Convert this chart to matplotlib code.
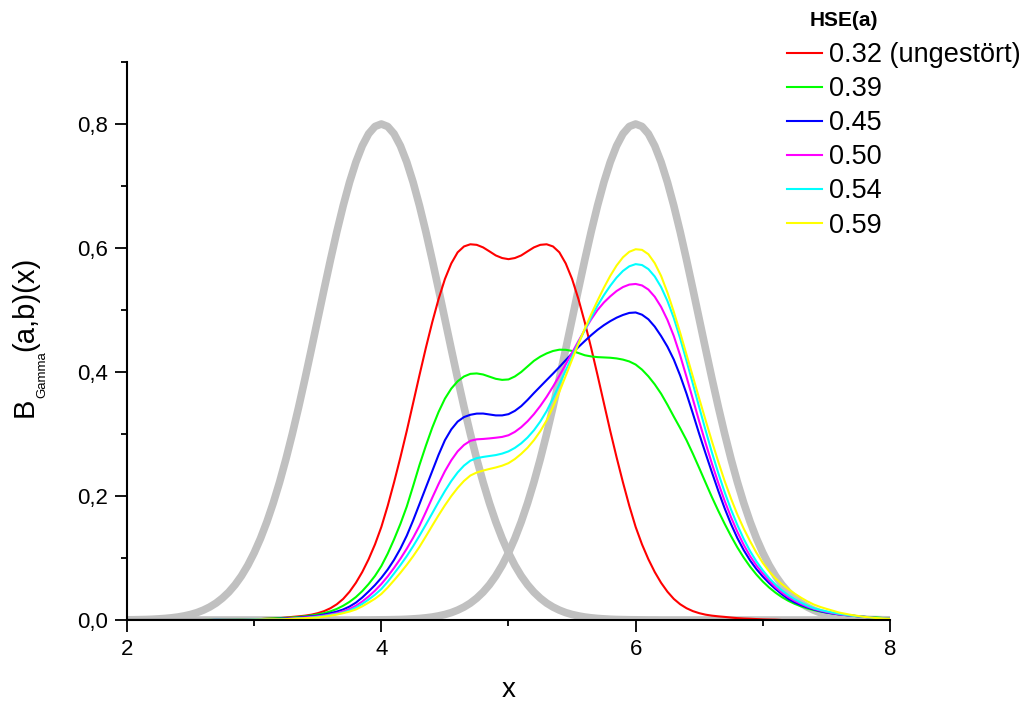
import numpy as np
import matplotlib
matplotlib.use("Agg")
import matplotlib.pyplot as plt
from matplotlib.ticker import FixedLocator, FuncFormatter

plt.rcParams["font.family"] = ["Liberation Sans", "DejaVu Sans"]

# x grid, step 0.05 from 2 to 8 (each row of the lists below = 0.5 in x)
x = np.linspace(2, 8, 121)

# grey reference curves (peaks at 4 and 6)
gray_left = [0.0003, 0.0004, 0.0006, 0.0008, 0.0012, 0.0018, 0.0025, 0.0035, 0.0048, 0.0066,
             0.0089, 0.0119, 0.0159, 0.0209, 0.0272, 0.0352, 0.0449, 0.0568, 0.0711, 0.0882,
             0.1083, 0.1316, 0.1583, 0.1886, 0.2224, 0.2597, 0.3002, 0.3436, 0.3894, 0.4369,
             0.4852, 0.5336, 0.5809, 0.6262, 0.6682, 0.7060, 0.7385, 0.7648, 0.7842, 0.7960,
             0.8000, 0.7960, 0.7842, 0.7648, 0.7385, 0.7060, 0.6682, 0.6262, 0.5809, 0.5336,
             0.4852, 0.4369, 0.3894, 0.3436, 0.3002, 0.2597, 0.2224, 0.1886, 0.1583, 0.1316,
             0.1083, 0.0882, 0.0711, 0.0568, 0.0449, 0.0352, 0.0272, 0.0209, 0.0159, 0.0119,
             0.0089, 0.0066, 0.0048, 0.0035, 0.0025, 0.0018, 0.0012, 0.0008, 0.0006, 0.0004,
             0.0003, 0.0002, 0.0001, 0.0001, 0, 0, 0, 0, 0, 0,
             0, 0, 0, 0, 0, 0, 0, 0, 0, 0,
             0, 0, 0, 0, 0, 0, 0, 0, 0, 0,
             0, 0, 0, 0, 0, 0, 0, 0, 0, 0,
             0]
gray_right = [0, 0, 0, 0, 0, 0, 0, 0, 0, 0,
              0, 0, 0, 0, 0, 0, 0, 0, 0, 0,
              0, 0, 0, 0, 0, 0, 0, 0, 0, 0,
              0, 0, 0, 0, 0, 0, 0, 0.0001, 0.0001, 0.0002,
              0.0003, 0.0004, 0.0006, 0.0008, 0.0012, 0.0018, 0.0025, 0.0035, 0.0048, 0.0066,
              0.0089, 0.0119, 0.0159, 0.0209, 0.0272, 0.0352, 0.0449, 0.0568, 0.0711, 0.0882,
              0.1083, 0.1316, 0.1583, 0.1886, 0.2224, 0.2597, 0.3002, 0.3436, 0.3894, 0.4369,
              0.4852, 0.5336, 0.5809, 0.6262, 0.6682, 0.7060, 0.7385, 0.7648, 0.7842, 0.7960,
              0.8000, 0.7960, 0.7842, 0.7648, 0.7385, 0.7060, 0.6682, 0.6262, 0.5809, 0.5336,
              0.4852, 0.4369, 0.3894, 0.3436, 0.3002, 0.2597, 0.2224, 0.1886, 0.1583, 0.1316,
              0.1083, 0.0882, 0.0711, 0.0568, 0.0449, 0.0352, 0.0272, 0.0209, 0.0159, 0.0119,
              0.0089, 0.0066, 0.0048, 0.0035, 0.0025, 0.0018, 0.0012, 0.0008, 0.0006, 0.0004,
              0.0003]

hse_032 = [0, 0, 0, 0, 0, 0, 0, 0, 0, 0,
           0, 0, 0, 0, 0, 0, 0, 0, 0.0005, 0.0007,
           0.001, 0.0015, 0.002, 0.0024, 0.003, 0.0039, 0.005, 0.0059, 0.007, 0.0086,
           0.011, 0.0143, 0.019, 0.0254, 0.034, 0.0456, 0.060, 0.0774, 0.098, 0.1219,
           0.150, 0.1841, 0.222, 0.2624, 0.305, 0.3499, 0.395, 0.4388, 0.480, 0.5176,
           0.550, 0.5751, 0.593, 0.6025, 0.606, 0.6051, 0.601, 0.5946, 0.588, 0.5838,
           0.582, 0.5838, 0.588, 0.5946, 0.601, 0.6051, 0.606, 0.6025, 0.593, 0.5751,
           0.550, 0.5176, 0.480, 0.4388, 0.395, 0.3499, 0.305, 0.2624, 0.222, 0.1841,
           0.150, 0.1219, 0.098, 0.0774, 0.060, 0.0456, 0.034, 0.0254, 0.019, 0.0143,
           0.011, 0.0086, 0.007, 0.0059, 0.005, 0.0039, 0.003, 0.0024, 0.002, 0.0015,
           0.001, 0.0007, 0.0005, 0, 0, 0, 0, 0, 0, 0,
           0, 0, 0, 0, 0, 0, 0, 0, 0, 0,
           0]
hse_039 = [0, 0, 0, 0, 0, 0, 0, 0, 0, 0,
           0, 0, 0, 0.0002, 0.0003, 0.0004, 0.0005, 0.0007, 0.001, 0.001,
           0.001, 0.0014, 0.002, 0.0025, 0.003, 0.0034, 0.004, 0.0049, 0.006, 0.0073,
           0.009, 0.0111, 0.014, 0.0179, 0.023, 0.0293, 0.037, 0.0466, 0.058, 0.0711,
           0.087, 0.107, 0.130, 0.155, 0.183, 0.216, 0.250, 0.281, 0.310, 0.3355,
           0.357, 0.3732, 0.385, 0.3928, 0.397, 0.3977, 0.396, 0.3925, 0.389, 0.3873,
           0.388, 0.3928, 0.400, 0.409, 0.418, 0.4248, 0.430, 0.4339, 0.436, 0.4358,
           0.434, 0.4306, 0.427, 0.4251, 0.424, 0.4235, 0.423, 0.4219, 0.420, 0.417,
           0.412, 0.4038, 0.393, 0.3801, 0.365, 0.3471, 0.328, 0.3095, 0.290, 0.2681,
           0.245, 0.2214, 0.198, 0.1759, 0.155, 0.1353, 0.117, 0.1006, 0.086, 0.0732,
           0.062, 0.0523, 0.044, 0.0369, 0.031, 0.0261, 0.022, 0.0187, 0.016, 0.0138,
           0.012, 0.0105, 0.009, 0.008, 0.007, 0.006, 0.005, 0.0045, 0.004, 0.003,
           0.002]
hse_045 = [0, 0, 0, 0, 0, 0, 0, 0, 0, 0,
           0, 0, 0, 0, 0.0002, 0.0003, 0.0004, 0.0004, 0.0005, 0.0007,
           0.001, 0.001, 0.001, 0.0015, 0.002, 0.0025, 0.003, 0.004, 0.005, 0.006,
           0.007, 0.0088, 0.011, 0.0136, 0.017, 0.0217, 0.028, 0.0363, 0.046, 0.0563,
           0.068, 0.0814, 0.097, 0.1151, 0.136, 0.1606, 0.187, 0.2136, 0.240, 0.2664,
           0.290, 0.3074, 0.320, 0.3273, 0.331, 0.3329, 0.333, 0.3315, 0.330, 0.330,
           0.332, 0.3373, 0.345, 0.355, 0.366, 0.3765, 0.387, 0.3974, 0.408, 0.4191,
           0.430, 0.4403, 0.450, 0.4594, 0.468, 0.4755, 0.482, 0.4876, 0.492, 0.4953,
           0.496, 0.4924, 0.485, 0.4732, 0.458, 0.4408, 0.420, 0.3942, 0.365, 0.3329,
           0.300, 0.2686, 0.238, 0.2081, 0.180, 0.1546, 0.132, 0.1126, 0.096, 0.082,
           0.070, 0.0594, 0.050, 0.0414, 0.034, 0.0284, 0.024, 0.0202, 0.017, 0.0143,
           0.012, 0.0105, 0.009, 0.008, 0.007, 0.006, 0.005, 0.004, 0.003, 0.0025,
           0.002]
hse_050 = [0, 0, 0, 0, 0, 0, 0, 0, 0, 0,
           0, 0, 0, 0, 0.0002, 0.0003, 0.0004, 0.0004, 0.0005, 0.0007,
           0.001, 0.001, 0.001, 0.0012, 0.0015, 0.002, 0.0025, 0.0032, 0.004, 0.0049,
           0.006, 0.0073, 0.009, 0.0111, 0.014, 0.0179, 0.023, 0.0298, 0.038, 0.0473,
           0.058, 0.0703, 0.084, 0.0988, 0.115, 0.1326, 0.152, 0.1741, 0.197, 0.2193,
           0.240, 0.2576, 0.272, 0.2823, 0.289, 0.2914, 0.292, 0.2929, 0.294, 0.2953,
           0.298, 0.3034, 0.311, 0.3206, 0.332, 0.3452, 0.360, 0.3764, 0.394, 0.4123,
           0.431, 0.4498, 0.468, 0.4849, 0.500, 0.5121, 0.522, 0.5306, 0.537, 0.541,
           0.542, 0.5396, 0.533, 0.5214, 0.505, 0.4839, 0.458, 0.4266, 0.392, 0.3561,
           0.320, 0.2853, 0.252, 0.2209, 0.192, 0.1657, 0.142, 0.1211, 0.103, 0.0879,
           0.075, 0.0633, 0.053, 0.0443, 0.037, 0.031, 0.026, 0.0216, 0.018, 0.0153,
           0.013, 0.011, 0.009, 0.008, 0.007, 0.006, 0.005, 0.004, 0.003, 0.0025,
           0.002]
hse_054 = [0, 0, 0, 0, 0, 0, 0, 0, 0, 0,
           0, 0, 0, 0, 0.0002, 0.0003, 0.0003, 0.0004, 0.0005, 0.0007,
           0.001, 0.001, 0.001, 0.001, 0.001, 0.0014, 0.002, 0.0024, 0.003, 0.0039,
           0.005, 0.0063, 0.008, 0.0097, 0.012, 0.0154, 0.020, 0.0259, 0.033, 0.0408,
           0.050, 0.0618, 0.075, 0.0885, 0.103, 0.119, 0.136, 0.1538, 0.172, 0.1904,
           0.208, 0.2241, 0.238, 0.249, 0.257, 0.261, 0.263, 0.2645, 0.266, 0.2684,
           0.272, 0.2776, 0.285, 0.2944, 0.306, 0.3201, 0.337, 0.3576, 0.380, 0.4025,
           0.425, 0.4469, 0.468, 0.4882, 0.507, 0.5239, 0.539, 0.5523, 0.563, 0.5705,
           0.574, 0.5725, 0.566, 0.5541, 0.537, 0.5145, 0.487, 0.4541, 0.418, 0.3808,
           0.343, 0.3058, 0.270, 0.2368, 0.206, 0.1781, 0.153, 0.1306, 0.111, 0.0943,
           0.080, 0.0676, 0.057, 0.0478, 0.040, 0.0335, 0.028, 0.0231, 0.019, 0.0162,
           0.014, 0.012, 0.010, 0.0085, 0.007, 0.006, 0.005, 0.004, 0.003, 0.0025,
           0.002]
hse_059 = [0, 0, 0, 0, 0, 0, 0, 0, 0, 0,
           0, 0, 0, 0, 0, 0.0002, 0.0003, 0.0003, 0.0004, 0.0004,
           0.0005, 0.0007, 0.001, 0.001, 0.001, 0.0014, 0.002, 0.0025, 0.003, 0.0034,
           0.004, 0.0054, 0.007, 0.0088, 0.011, 0.0136, 0.017, 0.022, 0.028, 0.0343,
           0.042, 0.0523, 0.064, 0.0761, 0.089, 0.1029, 0.118, 0.1348, 0.152, 0.1689,
           0.185, 0.1998, 0.213, 0.2243, 0.233, 0.2379, 0.241, 0.2436, 0.246, 0.2489,
           0.253, 0.2596, 0.268, 0.2779, 0.290, 0.3045, 0.322, 0.3438, 0.368, 0.3938,
           0.420, 0.4454, 0.470, 0.4931, 0.515, 0.5359, 0.555, 0.5717, 0.585, 0.5939,
           0.598, 0.597, 0.590, 0.5756, 0.555, 0.5281, 0.497, 0.4633, 0.428, 0.3925,
           0.357, 0.3221, 0.288, 0.2551, 0.224, 0.1957, 0.170, 0.1473, 0.127, 0.1084,
           0.092, 0.0784, 0.067, 0.0578, 0.050, 0.0426, 0.036, 0.0301, 0.025, 0.0212,
           0.018, 0.015, 0.012, 0.010, 0.008, 0.0065, 0.005, 0.004, 0.003, 0.0025,
           0.002]

series = [hse_032, hse_039, hse_045, hse_050, hse_054, hse_059]
labels = ["0.32 (ungestört)", "0.39", "0.45", "0.50", "0.54", "0.59"]
colors = ["#ff0000", "#00ff00", "#0000ff", "#ff00ff", "#00ffff", "#ffff00"]

W, H = 1026, 702
fig = plt.figure(figsize=(W / 100, H / 100), dpi=100)
ax = fig.add_axes([127 / W, 82 / H, 763 / W, 558 / H])

# grey curves behind the coloured ones
ax.plot(x, gray_left, color="#c0c0c0", lw=5.5, solid_joinstyle="round")
ax.plot(x, gray_right, color="#c0c0c0", lw=5.5, solid_joinstyle="round")

handles = []
for vals, col, lab in zip(series, colors, labels):
    h, = ax.plot(x, vals, color=col, lw=1.5, label=lab, solid_joinstyle="round")
    handles.append(h)

ax.set_xlim(2, 8)
ax.set_ylim(0, 0.9)
for side in ("top", "right"):
    ax.spines[side].set_visible(False)
for side in ("left", "bottom"):
    ax.spines[side].set_linewidth(1.5)

ax.xaxis.set_major_locator(FixedLocator([2, 4, 6, 8]))
ax.xaxis.set_minor_locator(FixedLocator([3, 5, 7]))
ax.yaxis.set_major_locator(FixedLocator([0, 0.2, 0.4, 0.6, 0.8]))
ax.yaxis.set_minor_locator(FixedLocator([0.1, 0.3, 0.5, 0.7, 0.9]))
ax.xaxis.set_major_formatter(FuncFormatter(lambda v, p: f"{v:.0f}"))
ax.yaxis.set_major_formatter(FuncFormatter(lambda v, p: f"{v:.1f}".replace(".", ",")))
ax.tick_params(which="major", direction="out", length=8.5, width=1.3, labelsize=16, pad=5)
ax.tick_params(which="minor", direction="out", length=4, width=1.3)

ax.set_xlabel("x", fontsize=20)
ax.xaxis.set_label_coords(0.5, -0.125)
ax.xaxis.label.set_va("center")

# y label: B with a small "Gamma" subscript, written bottom to top
renderer = fig.canvas.get_renderer()
y_pos = H - 417
for txt, size, base_x in [("B", 21, 33), ("Gamma", 9.5, 45), ("(a,b)(x)", 21, 33)]:
    t = fig.text(base_x / W, y_pos / H, txt, fontsize=size, rotation=90,
                 rotation_mode="anchor", ha="left", va="baseline")
    y_pos = t.get_window_extent(renderer).y1

fig.text(810 / W, 1 - 20 / H, "HSE(a)", fontsize=15, fontweight="bold", ha="left", va="center")
fig.legend(handles=handles, labels=labels, loc="upper left", bbox_to_anchor=(787 / W, 1 - 42 / H),
           frameon=False, fontsize=19.5, handlelength=1.3, handletextpad=0.25, labelspacing=0.3,
           borderpad=0, borderaxespad=0)

fig.savefig("out.png", dpi=100)
